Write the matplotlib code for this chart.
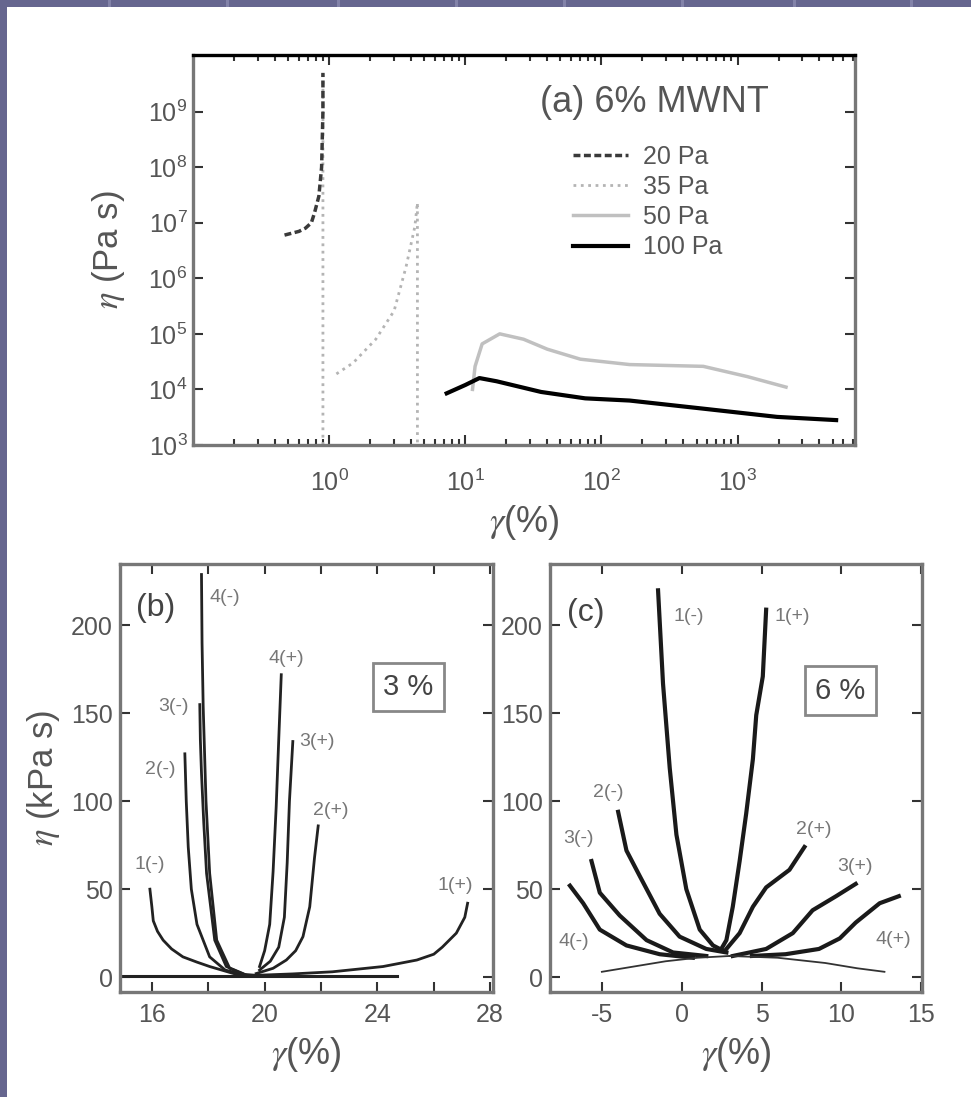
"""
MWNT suspensions: viscosity vs strain (creep) and sweep curves
"""
import numpy as np
import matplotlib
matplotlib.use('Agg')
from matplotlib import pyplot as plt
from matplotlib.patches import Rectangle
from matplotlib.ticker import FixedLocator, LogLocator, NullLocator, NullFormatter

plt.rcParams['font.family'] = ['Liberation Sans', 'DejaVu Sans']
plt.rcParams['mathtext.fontset'] = 'stix'
plt.rcParams['axes.unicode_minus'] = False

# ---------------- data ----------------
# (a) 6% MWNT, eta (Pa s) vs gamma (%)
g20 = [0.47, 0.6, 0.67, 0.74, 0.78, 0.84, 0.88, 0.90, 0.90]
e20 = [6e6, 7e6, 8e6, 1e7, 1.5e7, 3e7, 1e8, 1e9, 5e9]
g35 = [0.9, 0.9, np.nan, 1.13, 1.5, 2.2, 3.0, 3.67, 4.26, 4.45, 4.45]
e35 = [1e3, 5e9, np.nan, 1.9e4, 3e4, 8e4, 2.6e5, 1.6e6, 8.5e6, 2.3e7, 1e3]
g50 = [11.3, 11.8, 13.3, 17.9, 26.8, 40, 70, 161, 560, 1180, 2270]
e50 = [1.0e4, 2.6e4, 6.6e4, 1.0e5, 8.0e4, 5.3e4, 3.5e4, 2.8e4, 2.6e4, 1.7e4, 1.1e4]
g100 = [7.3, 10, 12.7, 17, 36, 76, 161, 560, 1950, 5300]
e100 = [8.5e3, 1.2e4, 1.6e4, 1.4e4, 9e3, 6.9e3, 6.3e3, 4.5e3, 3.2e3, 2.8e3]
stress_labels = ['20 Pa', '35 Pa', '50 Pa', '100 Pa']

# (b) 3 %, eta (kPa s) vs gamma (%)
b_base_x = [14.9, 24.7]
b_base_y = [0.5, 0.5]
b1m_x = [15.93, 16.0, 16.05, 16.2, 16.4, 16.7, 17.1, 17.6, 18.05, 18.9, 19.7]
b1m_y = [50, 40, 32, 26, 21, 16, 11.5, 8.5, 6, 2, 1]
b1p_x = [19.7, 21.0, 22.4, 24.2, 25.4, 26.0, 26.3, 26.8, 27.1, 27.2]
b1p_y = [1, 1.8, 3, 6, 9.7, 13, 17, 25, 34, 42]
b2m_x = [17.17, 17.22, 17.29, 17.4, 17.6, 18.05, 18.6, 19.35]
b2m_y = [127, 100, 74, 50, 30, 11.5, 4, 1]
b2p_x = [19.7, 20.3, 20.77, 21.1, 21.36, 21.6, 21.77, 21.9]
b2p_y = [2, 5, 9.7, 15, 23, 40, 68, 86]
b3m_x = [17.7, 17.72, 17.76, 17.84, 17.94, 18.23, 18.64, 19.23]
b3m_y = [155, 135, 116, 88, 59, 21, 6, 2]
b3p_x = [19.82, 20.2, 20.5, 20.7, 20.8, 20.88, 21.0]
b3p_y = [4, 9, 17, 34, 65, 100, 134]
b4m_x = [17.76, 17.78, 17.82, 17.92, 18.05, 18.3, 18.76, 19.35]
b4m_y = [229, 190, 154, 100, 59, 21, 5, 1]
b4p_x = [19.82, 20.0, 20.18, 20.3, 20.41, 20.5, 20.59]
b4p_y = [6, 15, 30, 60, 97, 135, 172]
b_labels = ['1(-)', '1(+)', '2(-)', '2(+)', '3(-)', '3(+)', '4(-)', '4(+)']
b_lab_x = [15.4, 26.14, 15.75, 21.71, 16.22, 21.24, 18.05, 20.12]
b_lab_y = [64, 52, 118, 95, 154, 134, 216, 181]

# (c) 6 %, eta (kPa s) vs gamma (%)
c1m_x = [-1.48, -1.17, -0.75, -0.33, 0.29, 1.13, 1.96, 2.6]
c1m_y = [220, 167, 119, 81, 50, 27, 18, 15]
c1p_x = [5.29, 5.08, 4.67, 4.46, 4.04, 3.63, 3.2, 2.8, 2.48]
c1p_y = [209, 171, 149, 124, 93, 66, 40, 21, 16]
c2m_x = [-3.98, -3.46, -2.6, -1.38, -0.13, 1.54, 2.8]
c2m_y = [94, 72, 57, 36, 23, 16, 14]
c2p_x = [7.69, 6.75, 5.29, 4.46, 3.63, 2.8]
c2p_y = [74, 61, 51, 40, 25, 16]
c3m_x = [-5.65, -5.13, -3.88, -2.2, -0.54, 1.54]
c3m_y = [66, 48, 35, 21, 14, 12]
c3p_x = [10.9, 9.67, 8.2, 6.96, 5.29, 3.2]
c3p_y = [53, 46, 38, 25, 16, 12]
c4m_x = [-7.0, -6.17, -5.13, -3.46, -1.38, 0.7]
c4m_y = [52, 42, 27, 18, 13, 11]
c4p_x = [13.6, 12.4, 10.9, 9.9, 8.6, 6.5, 4.4]
c4p_y = [46, 42, 31, 22, 16, 13, 12]
c_low_l_x = [-5.0, -3.0, -1.0, 1.0, 3.0]
c_low_l_y = [3, 6, 9, 11, 12]
c_low_r_x = [3.0, 6.0, 9.0, 11.0, 12.7]
c_low_r_y = [12, 11, 8, 5, 3]
c_labels = ['1(-)', '1(+)', '2(-)', '2(+)', '3(-)', '3(+)', '4(-)', '4(+)']
c_lab_x = [-0.54, 5.81, -5.54, 7.17, -7.42, 9.77, -7.73, 12.17]
c_lab_y = [205, 205, 105, 84, 79, 63, 20, 21.5]

# ---------------- figure ----------------
fig = plt.figure(figsize=(9.71, 10.97), dpi=100)
fig.patch.set_facecolor('white')

# slide background strips
slide = '#66668f'
fig.patches.append(Rectangle((0, 1 - 7 / 1097), 1, 7 / 1097, transform=fig.transFigure,
                             facecolor=slide, edgecolor='none', zorder=-5))
fig.patches.append(Rectangle((0, 0), 7 / 971, 1, transform=fig.transFigure,
                             facecolor=slide, edgecolor='none', zorder=-5))
for sx in [108, 226, 337, 455, 563, 681, 793, 910]:
    fig.patches.append(Rectangle((sx / 971, 1 - 7 / 1097), 3 / 971, 7 / 1097, transform=fig.transFigure,
                                 facecolor='#8282a8', edgecolor='none', zorder=-4))

spine_c = '#777777'
text_c = '#555555'


def style_axes(ax):
    for s in ax.spines.values():
        s.set_color(spine_c)
        s.set_linewidth(2.4)
    ax.tick_params(which='both', direction='in', top=True, right=True,
                   colors='#333333', labelcolor=text_c, labelsize=18, width=1.5)
    ax.tick_params(which='major', length=7)
    ax.tick_params(which='minor', length=4)


# ---- (a)
ax = fig.add_axes([0.1988, 0.5944, 0.6818, 0.3555])
style_axes(ax)
ax.set_xscale('log')
ax.set_yscale('log')
ax.plot(g35, e35, color='#b4b4b4', ls=':', lw=2, label='35 Pa')
ax.plot(g20, e20, color='#3a3a3a', ls=(0, (2, 1)), lw=2.5, label='20 Pa')
ax.plot(g50, e50, color='#c0c0c0', ls='-', lw=2.5, label='50 Pa')
ax.plot(g100, e100, color='black', ls='-', lw=3, label='100 Pa')
ax.set_xlim(0.1, 7300)
ax.set_ylim(1e3, 1.05e10)
ax.xaxis.set_major_locator(FixedLocator([1, 10, 100, 1000]))
ax.xaxis.set_minor_locator(LogLocator(base=10, subs=np.arange(2, 10)))
ax.xaxis.set_minor_formatter(NullFormatter())
ax.yaxis.set_major_locator(FixedLocator([1e3, 1e4, 1e5, 1e6, 1e7, 1e8, 1e9]))
ax.yaxis.set_minor_locator(NullLocator())
ax.tick_params(axis='x', pad=18)
ax.tick_params(axis='y', pad=4)
ax.spines['top'].set_color('black')
ax.set_xlabel(r'$\gamma$(%)', fontsize=26, color=text_c)
ax.xaxis.set_label_coords(0.5, -0.15)
ax.set_ylabel(r'$\eta$ (Pa s)', fontsize=25, color=text_c)
ax.yaxis.set_label_coords(-0.10, 0.5)
ax.text(0.524, 0.877, '(a) 6% MWNT', transform=ax.transAxes, fontsize=26,
        color=text_c, ha='left', va='center')
h, l = ax.get_legend_handles_labels()
order = [l.index(s) for s in stress_labels]
ax.legend([h[i] for i in order], [l[i] for i in order], loc='upper left',
          bbox_to_anchor=(0.574, 0.77), frameon=False, fontsize=18, handlelength=2.2,
          handletextpad=0.6, labelspacing=0.25, borderpad=0, borderaxespad=0,
          labelcolor=text_c)

# ---- (b)
bx = fig.add_axes([0.1236, 0.0957, 0.3841, 0.3902])
style_axes(bx)
bx.plot(b_base_x, b_base_y, color='#222222', lw=2.2)
for xs, ys in [(b1m_x, b1m_y), (b1p_x, b1p_y), (b2m_x, b2m_y), (b2p_x, b2p_y),
               (b3m_x, b3m_y), (b3p_x, b3p_y), (b4m_x, b4m_y), (b4p_x, b4p_y)]:
    bx.plot(xs, ys, color='#222222', lw=2)
for t, x, y in zip(b_labels, b_lab_x, b_lab_y):
    bx.text(x, y, t, fontsize=14, color='#777777', ha='left', va='center')
bx.set_xlim(14.87, 28.1)
bx.set_ylim(-8.5, 235)
bx.xaxis.set_major_locator(FixedLocator([16, 20, 24, 28]))
bx.xaxis.set_minor_locator(FixedLocator([18, 22, 26]))
bx.tick_params(which='minor', length=7)
bx.yaxis.set_major_locator(FixedLocator([0, 50, 100, 150, 200]))
bx.tick_params(axis='x', pad=8)
bx.tick_params(axis='y', pad=5)
bx.text(15.45, 210, '(b)', fontsize=23, color='#444444', ha='left', va='center')
bx.text(25.1, 165, '3 %', fontsize=21, color='#444444', ha='center', va='center',
        bbox=dict(boxstyle='square,pad=0.35', facecolor='white', edgecolor='#888888', lw=2))
bx.set_xlabel(r'$\gamma$(%)', fontsize=26, color=text_c)
bx.xaxis.set_label_coords(0.5, -0.10)
bx.set_ylabel(r'$\eta$ (kPa s)', fontsize=25, color=text_c)
bx.yaxis.set_label_coords(-0.155, 0.5)

# ---- (c)
cx = fig.add_axes([0.5664, 0.0957, 0.3831, 0.3902])
style_axes(cx)
for xs, ys in [(c1m_x, c1m_y), (c1p_x, c1p_y), (c2m_x, c2m_y), (c2p_x, c2p_y),
               (c3m_x, c3m_y), (c3p_x, c3p_y), (c4m_x, c4m_y), (c4p_x, c4p_y)]:
    cx.plot(xs, ys, color='#1a1a1a', lw=3)
for xs, ys in [(c_low_l_x, c_low_l_y), (c_low_r_x, c_low_r_y)]:
    cx.plot(xs, ys, color='#333333', lw=1.3)
for t, x, y in zip(c_labels, c_lab_x, c_lab_y):
    cx.text(x, y, t, fontsize=14, color='#777777', ha='left', va='center')
cx.set_xlim(-8.25, 15.05)
cx.set_ylim(-8.5, 235)
cx.xaxis.set_major_locator(FixedLocator([-5, 0, 5, 10, 15]))
cx.yaxis.set_major_locator(FixedLocator([0, 50, 100, 150, 200]))
cx.tick_params(axis='x', pad=8)
cx.tick_params(axis='y', pad=5)
cx.text(-7.2, 207, '(c)', fontsize=23, color='#444444', ha='left', va='center')
cx.text(9.94, 163, '6 %', fontsize=21, color='#444444', ha='center', va='center',
        bbox=dict(boxstyle='square,pad=0.35', facecolor='white', edgecolor='#888888', lw=2))
cx.set_xlabel(r'$\gamma$(%)', fontsize=26, color=text_c)
cx.xaxis.set_label_coords(0.5, -0.10)

fig.savefig('out.png', dpi=100)
